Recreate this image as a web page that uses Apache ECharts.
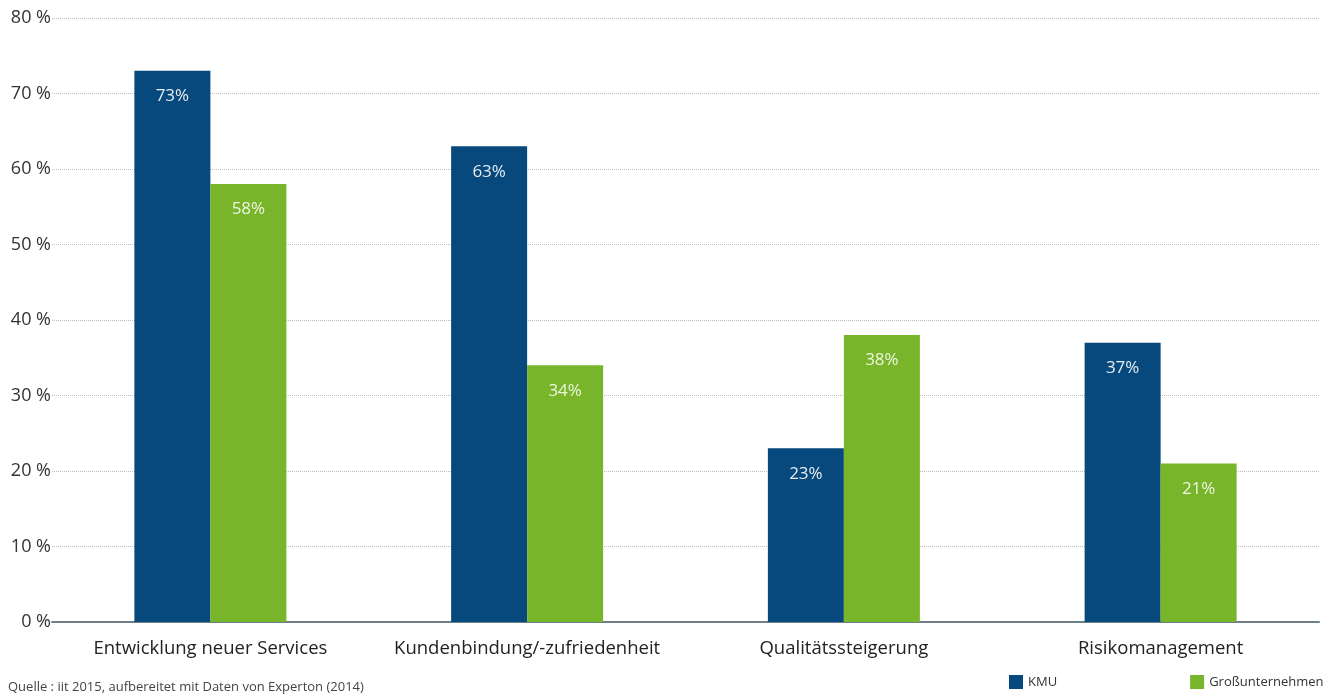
<!DOCTYPE html>
<html><head><meta charset="utf-8">
<script src="https://cdn.jsdelivr.net/npm/echarts@6/dist/echarts.min.js"></script>
<style>html,body{margin:0;padding:0;background:#fff}#c{width:1341px;height:695px}</style>
</head><body><div id="c"></div>
<script>
const categories = ['Entwicklung neuer Services', 'Kundenbindung/-zufriedenheit', 'Qualitätssteigerung', 'Risikomanagement'];
const kmu = [73, 63, 23, 37];
const gross = [58, 34, 38, 21];
const seriesNames = ['KMU', 'Großunternehmen'];
const yTicks = { min: 0, max: 80, interval: 10 };
const sourceText = 'Quelle : iit 2015, aufbereitet mit Daten von Experton (2014)';

const chart = echarts.init(document.getElementById('c'));
const font = '"Open Sans", "Noto Sans", sans-serif';
chart.setOption({
  animation: false,
  textStyle: { fontFamily: font },
  grid: { left: 52, right: 22, top: 18, bottom: 73 },
  legend: {
    data: seriesNames,
    bottom: 1, left: 1004,
    itemWidth: 14, itemHeight: 14, itemGap: 133,
    icon: 'rect',
    textStyle: { fontSize: 13, color: '#333', fontFamily: font }
  },
  graphic: [{
    type: 'text', left: 8, bottom: 1,
    style: { text: sourceText, fontSize: 13, fill: '#444', fontFamily: font }
  }],
  xAxis: {
    type: 'category', data: categories,
    axisTick: { show: false },
    axisLine: { lineStyle: { color: '#6f7f8a', width: 2 } },
    axisLabel: { interval: 0, fontSize: 18.5, color: '#222', margin: 17, fontFamily: font }
  },
  yAxis: {
    type: 'value', min: yTicks.min, max: yTicks.max, interval: yTicks.interval,
    axisLabel: { formatter: '{value} %', fontSize: 18, color: '#333', margin: 1, fontFamily: font },
    splitLine: { lineStyle: { type: 'dotted', color: '#bbb' } },
    axisLine: { show: false }, axisTick: { show: false }
  },
  series: [
    { name: seriesNames[0], type: 'bar', data: kmu, barWidth: 76, barGap: '0%',
      itemStyle: { color: '#07497c' },
      label: { show: true, position: 'insideTop', distance: 17, formatter: '{c}%', color: '#e6edf4', fontSize: 17, fontFamily: font } },
    { name: seriesNames[1], type: 'bar', data: gross, barWidth: 76,
      itemStyle: { color: '#79b52b' },
      label: { show: true, position: 'insideTop', distance: 17, formatter: '{c}%', color: '#eef5df', fontSize: 17, fontFamily: font } }
  ]
});
</script></body></html>
